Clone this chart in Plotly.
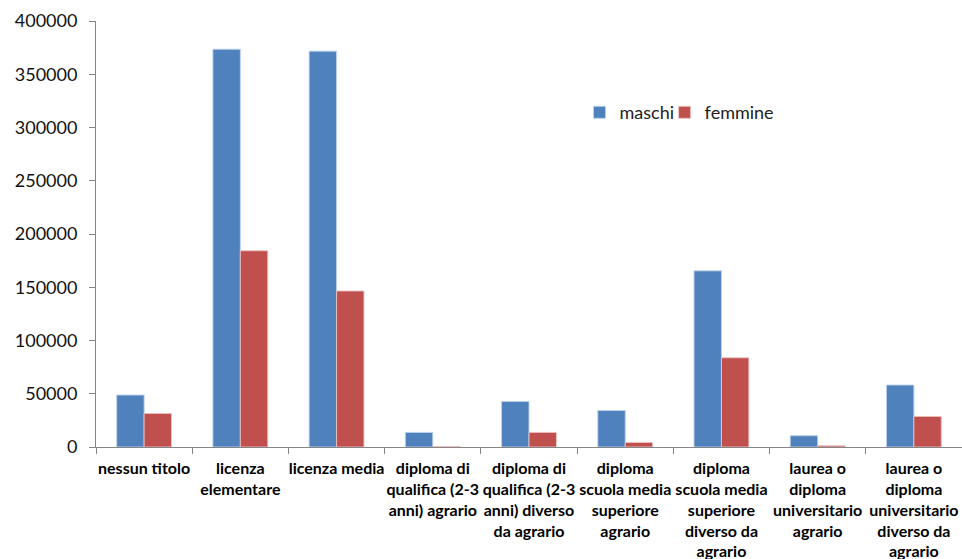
import plotly.graph_objects as go

categories = [
    "nessun titolo",
    "licenza<br>elementare",
    "licenza media",
    "diploma di<br>qualifica (2-3<br>anni) agrario",
    "diploma di<br>qualifica (2-3<br>anni) diverso<br>da agrario",
    "diploma<br>scuola media<br>superiore<br>agrario",
    "diploma<br>scuola media<br>superiore<br>diverso da<br>agrario",
    "laurea o<br>diploma<br>universitario<br>agrario",
    "laurea o<br>diploma<br>universitario<br>diverso da<br>agrario",
]
maschi = [48800, 373500, 371700, 13700, 42800, 34300, 165400, 10600, 58200]
femmine = [31500, 184300, 146500, 300, 13700, 4300, 83800, 1200, 28700]

fig = go.Figure()
fig.add_trace(go.Bar(
    x=categories, y=maschi, name="maschi", legend="legend",
    marker=dict(color="#4F81BD", line=dict(color="rgba(190,210,235,0.9)", width=1)),
))
fig.add_trace(go.Bar(
    x=categories, y=femmine, name="femmine", legend="legend2",
    marker=dict(color="#C0504D", line=dict(color="rgba(235,195,195,0.9)", width=1)),
))

legend_style = dict(
    orientation="h", yanchor="middle", xanchor="left", y=0.785,
    font=dict(size=18, color="#222222"), bgcolor="rgba(0,0,0,0)",
    itemwidth=30,
)

fig.update_layout(
    width=962, height=559,
    margin=dict(l=96, r=0, t=21, b=112),
    paper_bgcolor="white", plot_bgcolor="white",
    barmode="group", bargap=0.43, bargroupgap=0,
    font=dict(family="Lato, 'Open Sans', sans-serif", color="#111111"),
    showlegend=True,
    legend=dict(x=0.5583, **legend_style),
    legend2=dict(x=0.6566, **legend_style),
)
fig.update_yaxes(
    range=[0, 400000], dtick=50000, tickformat="d",
    showgrid=False, zeroline=False,
    showline=True, linecolor="#868686", linewidth=1,
    ticks="outside", ticklen=6, tickcolor="#868686",
    tickfont=dict(size=18, color="#111111"),
    ticklabelstandoff=8,
)
fig.update_xaxes(
    showgrid=False, showline=True, linecolor="#868686", linewidth=1,
    ticks="outside", ticklen=6, tickcolor="#868686", tickson="boundaries",
    tickfont=dict(size=16, color="#000000", family="Lato, sans-serif", weight="bold"),
    tickangle=0, ticklabelstandoff=7,
)

fig.write_html("out.html")
